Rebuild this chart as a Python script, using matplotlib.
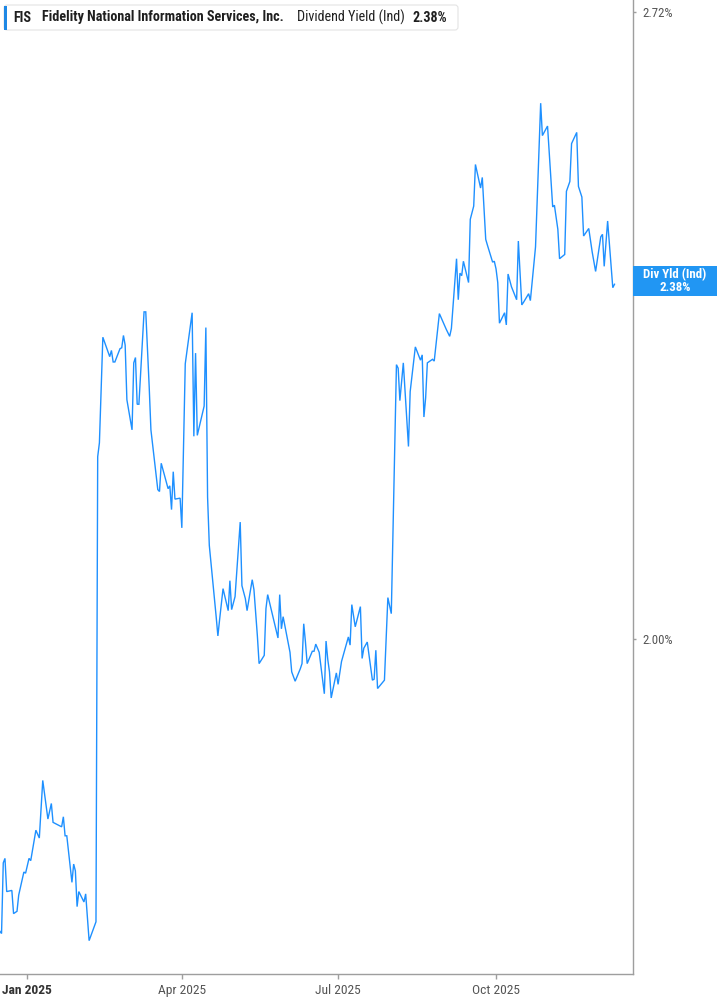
import matplotlib
matplotlib.use('Agg')
import matplotlib.pyplot as plt
import matplotlib.dates as mdates
from matplotlib import font_manager
from matplotlib.patches import FancyBboxPatch, Rectangle
from matplotlib.ticker import FixedLocator, FixedFormatter, NullLocator, NullFormatter
from matplotlib.transforms import IdentityTransform
import pandas as pd
from datetime import datetime, timedelta

# ---------------- data ----------------
dates = [
    '2024-12-16', '2024-12-17', '2024-12-18', '2024-12-19', '2024-12-20', '2024-12-23', '2024-12-24',
    '2024-12-26', '2024-12-27', '2024-12-30', '2024-12-31',
    '2025-01-02', '2025-01-03', '2025-01-06', '2025-01-08', '2025-01-10', '2025-01-13', '2025-01-15',
    '2025-01-16', '2025-01-21', '2025-01-22', '2025-01-23', '2025-01-24', '2025-01-27', '2025-01-28',
    '2025-01-29', '2025-01-30', '2025-01-31',
    '2025-02-03', '2025-02-04', '2025-02-06', '2025-02-10', '2025-02-11', '2025-02-12', '2025-02-14',
    '2025-02-18', '2025-02-19', '2025-02-20', '2025-02-21', '2025-02-24', '2025-02-25', '2025-02-26',
    '2025-02-27', '2025-02-28',
    '2025-03-03', '2025-03-04', '2025-03-05', '2025-03-06', '2025-03-07', '2025-03-10', '2025-03-11',
    '2025-03-13', '2025-03-14', '2025-03-18', '2025-03-19', '2025-03-20', '2025-03-24', '2025-03-25',
    '2025-03-26', '2025-03-27', '2025-03-28', '2025-03-31',
    '2025-04-01', '2025-04-03', '2025-04-07', '2025-04-08', '2025-04-09', '2025-04-10', '2025-04-14',
    '2025-04-15', '2025-04-16', '2025-04-17', '2025-04-21', '2025-04-22', '2025-04-23', '2025-04-25',
    '2025-04-28', '2025-04-29', '2025-04-30',
    '2025-05-02', '2025-05-05', '2025-05-06', '2025-05-08', '2025-05-09', '2025-05-12', '2025-05-13',
    '2025-05-15', '2025-05-16', '2025-05-19', '2025-05-20', '2025-05-21', '2025-05-27', '2025-05-28',
    '2025-05-29', '2025-05-30',
    '2025-06-02', '2025-06-03', '2025-06-04', '2025-06-06', '2025-06-09', '2025-06-10', '2025-06-11',
    '2025-06-12', '2025-06-13', '2025-06-16', '2025-06-17', '2025-06-18', '2025-06-20', '2025-06-23',
    '2025-06-24', '2025-06-25', '2025-06-26', '2025-06-27', '2025-06-30',
    '2025-07-01', '2025-07-03', '2025-07-07', '2025-07-08', '2025-07-09', '2025-07-11', '2025-07-14',
    '2025-07-15', '2025-07-16', '2025-07-18', '2025-07-21', '2025-07-22', '2025-07-23', '2025-07-24',
    '2025-07-25', '2025-07-28', '2025-07-30',
    '2025-08-01', '2025-08-04', '2025-08-05', '2025-08-06', '2025-08-08', '2025-08-11', '2025-08-12',
    '2025-08-15', '2025-08-18', '2025-08-19', '2025-08-20', '2025-08-21', '2025-08-22', '2025-08-25',
    '2025-08-26', '2025-08-29',
    '2025-09-02', '2025-09-04', '2025-09-05', '2025-09-08', '2025-09-09', '2025-09-10', '2025-09-11',
    '2025-09-12', '2025-09-15', '2025-09-16', '2025-09-18', '2025-09-19', '2025-09-22', '2025-09-23',
    '2025-09-25', '2025-09-26', '2025-09-29', '2025-09-30',
    '2025-10-01', '2025-10-02', '2025-10-03', '2025-10-06', '2025-10-07', '2025-10-08', '2025-10-10',
    '2025-10-13', '2025-10-14', '2025-10-15', '2025-10-16', '2025-10-17', '2025-10-20', '2025-10-21',
    '2025-10-23', '2025-10-24', '2025-10-27', '2025-10-28', '2025-10-31',
    '2025-11-03', '2025-11-04', '2025-11-06', '2025-11-07', '2025-11-10', '2025-11-11', '2025-11-13',
    '2025-11-14', '2025-11-17', '2025-11-18', '2025-11-20', '2025-11-21', '2025-11-24', '2025-11-26',
    '2025-11-28',
    '2025-12-01', '2025-12-02', '2025-12-03', '2025-12-04', '2025-12-05', '2025-12-08', '2025-12-09',
]

yields = [
    1.733, 1.731, 1.792, 1.796, 1.767, 1.768, 1.748,
    1.750, 1.764, 1.784, 1.783,
    1.796, 1.794, 1.821, 1.814, 1.866, 1.831, 1.845,
    1.828, 1.824, 1.833, 1.816, 1.816, 1.775, 1.791,
    1.785, 1.754, 1.767,
    1.758, 1.765, 1.725, 1.741, 2.187, 2.202, 2.319,
    2.297, 2.304, 2.291, 2.291, 2.306, 2.307, 2.321,
    2.310, 2.249,
    2.216, 2.290, 2.296, 2.244, 2.244, 2.348, 2.348,
    2.263, 2.216, 2.152, 2.150, 2.180, 2.153, 2.156,
    2.131, 2.171, 2.142, 2.143,
    2.112, 2.289, 2.347, 2.209, 2.301, 2.210, 2.242,
    2.330, 2.144, 2.094, 2.022, 2.003, 2.019, 2.050,
    2.028, 2.058, 2.029,
    2.042, 2.118, 2.053, 2.040, 2.028, 2.059, 2.049,
    2.003, 1.976, 1.984, 2.030, 2.044, 2.001, 2.044,
    2.010, 2.022,
    1.996, 1.987, 1.968, 1.959, 1.971, 1.976, 2.015,
    1.997, 1.976, 1.988, 1.988, 1.995, 1.987, 1.947,
    1.998, 1.980, 1.968, 1.943, 1.967,
    1.956, 1.978, 2.002, 1.994, 2.034, 2.012, 2.032,
    1.981, 1.991, 1.997, 1.960, 1.961, 1.989, 1.952,
    1.954, 1.960, 2.041,
    2.025, 2.288, 2.284, 2.248, 2.290, 2.198, 2.258,
    2.308, 2.293, 2.299, 2.230, 2.251, 2.290, 2.294,
    2.292, 2.346,
    2.328, 2.320, 2.329, 2.410, 2.362, 2.393, 2.390,
    2.407, 2.382, 2.457, 2.473, 2.524, 2.495, 2.508,
    2.433, 2.426, 2.406, 2.407,
    2.398, 2.382, 2.335, 2.347, 2.333, 2.392, 2.377,
    2.362, 2.431, 2.393, 2.356, 2.359, 2.369, 2.361,
    2.403, 2.424, 2.601, 2.560, 2.572,
    2.472, 2.474, 2.445, 2.410, 2.415, 2.491, 2.503,
    2.550, 2.564, 2.497, 2.484, 2.437, 2.446, 2.418,
    2.395,
    2.436, 2.439, 2.401, 2.428, 2.455, 2.376, 2.380,
]

x_tick_dates = ['2025-01-01', '2025-04-01', '2025-07-01', '2025-10-01']
x_tick_labels = ['Jan 2025', 'Apr 2025', 'Jul 2025', 'Oct 2025']
y_ticks = [2.00, 2.72]
y_tick_labels = ['2.00%', '2.72%']
header_symbol = 'FIS'
header_company = 'Fidelity National Information Services, Inc.'
header_metric = 'Dividend Yield (Ind)'
header_value = '2.38%'
end_label_title = 'Div Yld (Ind)'
end_label_value = '2.38%'

assert len(dates) == len(yields)

# ---------------- fonts ----------------
avail = {f.name for f in font_manager.fontManager.ttflist}


def pick(cands):
    for c in cands:
        if c in avail:
            return c
    return 'DejaVu Sans'


FONT = pick(['Liberation Sans Narrow', 'Roboto Condensed', 'Roboto', 'DejaVu Sans'])
plt.rcParams['font.family'] = [FONT, 'DejaVu Sans']

# ---------------- figure ----------------
W, H = 717, 1005
fig = plt.figure(figsize=(W / 100, H / 100), dpi=100)
fig.patch.set_facecolor('white')
ax = fig.add_axes([0, 31 / H, 632.7 / W, 974 / H])
ax.set_facecolor('white')

d = pd.to_datetime(dates)
LINE = '#1E90FF'
ax.plot(d, yields, color=LINE, lw=1.0, solid_joinstyle='miter')

ax.set_yscale('log')
ax.set_ylim(1.697, 2.736)
base = datetime(2025, 1, 1)
ax.set_xlim(base - timedelta(days=15.9), base + timedelta(days=352.6))

GREY = '#9e9e9e'
for s in ['left', 'top']:
    ax.spines[s].set_visible(False)
for s in ['right', 'bottom']:
    ax.spines[s].set_color(GREY)
    ax.spines[s].set_linewidth(1.0)

ax.xaxis.set_major_locator(FixedLocator(mdates.date2num(pd.to_datetime(x_tick_dates))))
ax.xaxis.set_major_formatter(FixedFormatter(x_tick_labels))
ax.xaxis.set_minor_locator(NullLocator())
ax.tick_params(axis='x', length=3.5, width=1, color=GREY, pad=4.0, labelsize=9.7,
               labelcolor='#555555')

ax.yaxis.tick_right()
ax.yaxis.set_major_locator(FixedLocator(y_ticks))
ax.yaxis.set_major_formatter(FixedFormatter(y_tick_labels))
ax.yaxis.set_minor_locator(NullLocator())
ax.yaxis.set_minor_formatter(NullFormatter())
ax.tick_params(axis='y', which='major', length=2.5, width=1, color=GREY, pad=4.5,
               labelsize=9.3, labelcolor='#555555', right=True, left=False,
               labelright=True, labelleft=False)

xl = ax.get_xticklabels()
xl[0].set_fontweight('bold')
xl[0].set_color('#333333')

# ---------------- header box ----------------
idt = IdentityTransform()
hdr = FancyBboxPatch((4, H - 30), 454, 25, boxstyle='round,pad=0,rounding_size=3',
                     transform=idt, fc='white', ec='#e4e4e4', lw=0.8, zorder=5)
fig.add_artist(hdr)
bar = Rectangle((4, H - 29.5), 2.6, 24, transform=idt, fc='#1E88E5', ec='none', zorder=6)
fig.add_artist(bar)

fig.canvas.draw()
renderer = fig.canvas.get_renderer()
ty = H - 17.5
pieces = [(header_symbol, 'bold', 13), (header_company, 'bold', 11),
          (header_metric, 'normal', 13), (header_value, 'bold', 8)]
xcur = 0
for i, (txt, wt, gap) in enumerate(pieces):
    xpos = gap if i == 0 else xcur + gap
    t = fig.text(xpos / W, ty / H, txt, ha='left', va='center', fontsize=10.2,
                 fontweight=wt, color='#1f1f1f', zorder=7)
    bb = t.get_window_extent(renderer=renderer)
    xcur = bb.x1

# ---------------- end value label ----------------
last_y = ax.transData.transform((mdates.date2num(d[-1]), yields[-1]))[1]
yc = last_y + 3
lab = Rectangle((633, yc - 15), 84, 30, transform=idt, fc='#2196F3', ec='none', zorder=5)
fig.add_artist(lab)
fig.text(675 / W, (yc + 6.5) / H, end_label_title, ha='center', va='center',
         fontsize=9.3, fontweight='bold', color='white', zorder=6)
fig.text(675 / W, (yc - 6.5) / H, end_label_value, ha='center', va='center',
         fontsize=9.3, fontweight='bold', color='white', zorder=6)

fig.savefig('out.png', dpi=100, facecolor='white')
